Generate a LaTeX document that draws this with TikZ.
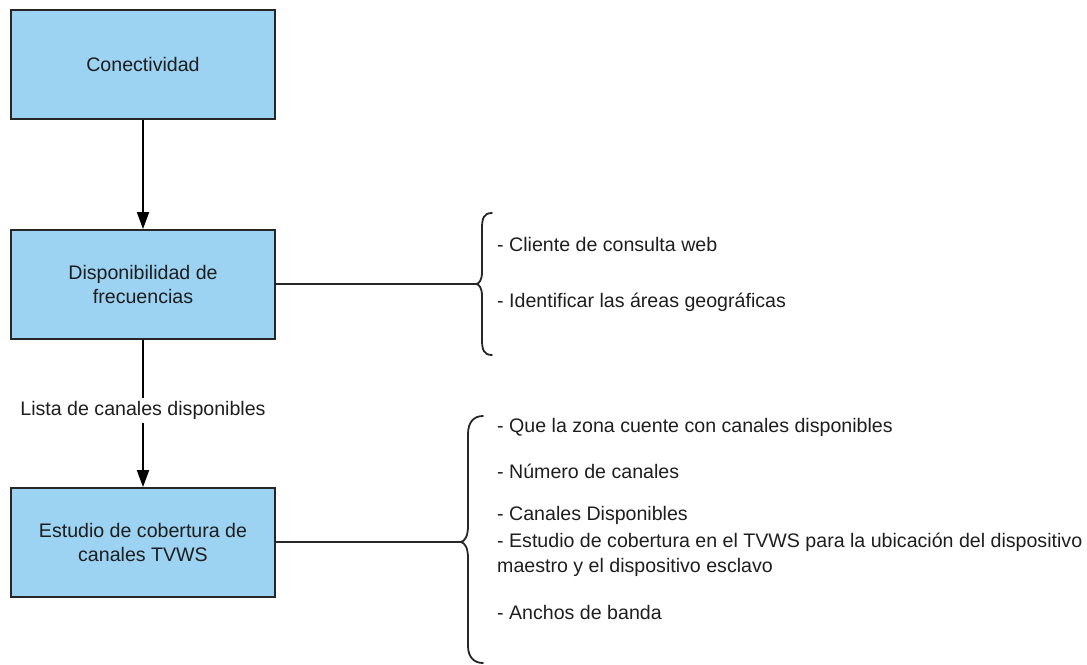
\documentclass[tikz,border=0pt]{standalone}
\usepackage{fontspec}
\setmainfont{Liberation Sans}
\usetikzlibrary{arrows.meta}
\definecolor{boxblue}{RGB}{156,210,242}
\definecolor{txt}{RGB}{30,30,30}
\begin{document}
\begin{tikzpicture}[x=1pt,y=-1pt,
  every node/.style={text=txt,font=\fontsize{19.6}{24.5}\selectfont},
  flowbox/.style={draw=black!85,line width=1.8pt,fill=boxblue,minimum width=264pt,minimum height=109pt,align=center,inner sep=0pt},
  flowarrow/.style={line width=1.8pt,-{Triangle[length=17pt,width=12pt]}},
  bracepath/.style={line width=1.8pt,black!85,line cap=round},
  item/.style={anchor=west,align=left,inner sep=0pt}]
\useasboundingbox (0,0) rectangle (1087,664);
\node[flowbox] (b1) at (143,64.5) {Conectividad};
\node[flowbox] (b2) at (143,284.5) {Disponibilidad de\\frecuencias};
\node[flowbox] (b3) at (143,542.5) {Estudio de cobertura de\\canales TVWS};
\draw[flowarrow] (b1) -- (b2);
\draw[flowarrow] (b2) -- node[fill=white,inner sep=3pt,pos=0.48] (lbl) {Lista de canales disponibles} (b3);
% brace 1
\coordinate (t1) at (476,284);
\draw[bracepath] (492,213) .. controls (484,213) and (482,218) .. (482,228)
  -- (482,272) .. controls (482,280) and (479,284) .. (t1)
  .. controls (479,284) and (482,288) .. (482,296)
  -- (482,340) .. controls (482,350) and (484,355) .. (492,355);
\draw[line width=1.8pt,black!85] (b2.east |- t1) -- (t1);
\node[item] (i1) at (497,244) {- Cliente de consulta web};
\node[item] (i2) at (497,302) {- Identificar las áreas geográficas};
% brace 2
\coordinate (t2) at (461,542);
\draw[bracepath] (483,416) .. controls (474,416) and (468,422) .. (468,434)
  -- (468,526) .. controls (468,536) and (465,541) .. (t2)
  .. controls (465,543) and (468,548) .. (468,558)
  -- (468,646) .. controls (468,657) and (474,663) .. (483,663);
\draw[line width=1.8pt,black!85] (b3.east |- t2) -- (t2);
\node[item] (j1) at (497,427) {- Que la zona cuente con canales disponibles};
\node[item] (j2) at (497,471) {- Número de canales};
\node[item] (j3) at (497,515) {- Canales Disponibles};
\node[item] (j4) at (497,555) {- Estudio de cobertura en el TVWS para la ubicación del dispositivo\\maestro y el dispositivo esclavo};
\node[item] (j5) at (497,612) {- Anchos de banda};
\end{tikzpicture}
\end{document}
